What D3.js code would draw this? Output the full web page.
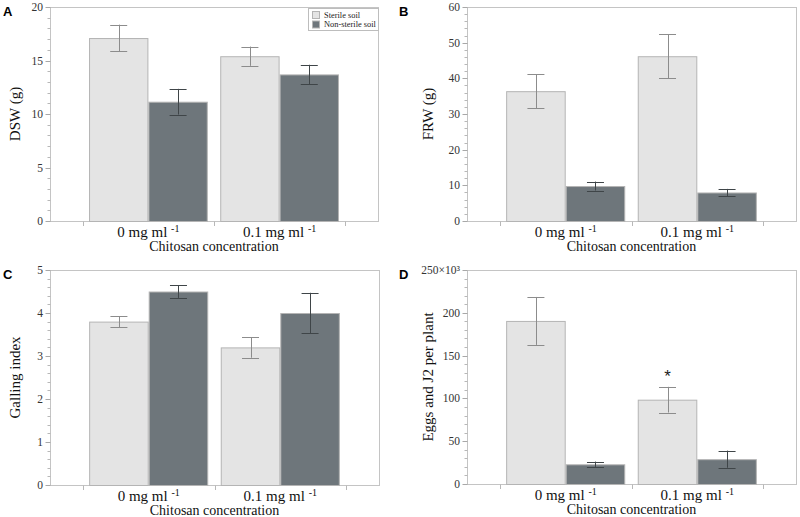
<!DOCTYPE html>
<html><head><meta charset="utf-8">
<script src="https://cdn.jsdelivr.net/npm/d3@7"></script>
<style>body{margin:0;background:#fff}svg{display:block}</style>
</head><body>
<svg id="chart" width="800" height="517"></svg>
<script>
const categories = ["0", "0.1"];
const seriesNames = ["Sterile soil", "Non-sterile soil"];

// Panel A: DSW (g)
const dswSterile = [17.1, 15.4];
const dswSterileErr = [1.25, 0.9];
const dswNon = [11.15, 13.7];
const dswNonErr = [1.2, 0.9];

// Panel B: FRW (g)
const frwSterile = [36.4, 46.2];
const frwSterileErr = [4.75, 6.15];
const frwNon = [9.8, 8.0];
const frwNonErr = [1.25, 1.0];

// Panel C: Galling index
const gallSterile = [3.8, 3.2];
const gallSterileErr = [0.13, 0.24];
const gallNon = [4.5, 4.0];
const gallNonErr = [0.15, 0.47];

// Panel D: Eggs and J2 per plant (x10^3)
const eggSterile = [190.5, 98.5];
const eggSterileErr = [28, 15];
const eggNon = [23, 29];
const eggNonErr = [3.2, 10];

const yTicksA = [0, 5, 10, 15, 20];
const yTicksB = [0, 10, 20, 30, 40, 50, 60];
const yTicksC = [0, 1, 2, 3, 4, 5];
const yTicksD = [0, 50, 100, 150, 200, 250];
const yTickLabelsD = ["0", "50", "100", "150", "200", "250×10³"];

const svg = d3.select("#chart");
const serif = "'Liberation Serif','Times New Roman',serif";
const sans = "'Liberation Sans',Arial,sans-serif";
const fills = ["#e4e4e4", "#6e767b"];
const errCols = ["#8c8c8c", "#3f4548"];

function panel(opt) {
  const {x0, x1, y0, y1, max, ticks, tickLabels, minorStep, sterile, sErr, non, nErr, ylabel, ylabelX, letter, letterX, legend, star} = opt;
  const g = svg.append("g");
  const x = d3.scaleBand().domain(categories).range([x0, x1]).paddingInner(0).paddingOuter(0.25);
  const xs = d3.scaleBand().domain([0, 1]).range([0, x.bandwidth()]).paddingInner(0).paddingOuter(0.105);
  const y = d3.scaleLinear().domain([0, max]).range([y1, y0]);

  // frame
  g.append("rect").attr("x", x0 + 0.5).attr("y", y0 + 0.5).attr("width", x1 - x0).attr("height", y1 - y0)
    .attr("fill", "none").attr("stroke", "#c4c4c4").attr("stroke-width", 1);

  // y ticks
  const minors = d3.range(0, max + 1e-9, minorStep).filter(v => !ticks.some(t => Math.abs(t - v) < 1e-9));
  g.selectAll(".minor").data(minors).join("line")
    .attr("x1", x0 + 0.5).attr("x2", x0 - 2.5)
    .attr("y1", d => Math.round(y(d)) + 0.5).attr("y2", d => Math.round(y(d)) + 0.5)
    .attr("stroke", "#b8b8b8");
  g.selectAll(".major").data(ticks).join("line")
    .attr("x1", x0 + 0.5).attr("x2", x0 - 4.5)
    .attr("y1", d => Math.round(y(d)) + 0.5).attr("y2", d => Math.round(y(d)) + 0.5)
    .attr("stroke", "#a8a8a8");
  g.selectAll(".tl").data(ticks).join("text")
    .attr("x", x0 - 7).attr("y", d => y(d) + 4)
    .attr("text-anchor", "end").attr("font-family", serif).attr("font-size", 11.5).attr("fill", "#333")
    .text((d, i) => tickLabels ? tickLabels[i] : d);

  // x ticks at band boundaries
  const bounds = [x(categories[0]), x(categories[1]), x(categories[1]) + x.bandwidth()];
  g.selectAll(".xt").data(bounds).join("line")
    .attr("x1", d => Math.round(d) + 0.5).attr("x2", d => Math.round(d) + 0.5)
    .attr("y1", y1 + 0.5).attr("y2", y1 + 5)
    .attr("stroke", "#b8b8b8");

  // bars
  const data = [];
  categories.forEach((c, i) => {
    data.push({c, s: 0, v: sterile[i], e: sErr[i]});
    data.push({c, s: 1, v: non[i], e: nErr[i]});
  });
  g.selectAll(".bar").data(data).join("rect")
    .attr("x", d => x(d.c) + xs(d.s) + 0.5)
    .attr("y", d => y(d.v) + 0.5)
    .attr("width", xs.bandwidth() - 1)
    .attr("height", d => y(0) - y(d.v))
    .attr("fill", d => fills[d.s]).attr("stroke", "#b4b4b4").attr("stroke-width", 1);

  // error bars
  const eb = g.selectAll(".eb").data(data).join("g").attr("stroke", d => errCols[d.s]).attr("stroke-width", 1);
  eb.append("line")
    .attr("x1", d => Math.round(x(d.c) + xs(d.s) + xs.bandwidth() / 2) + 0.5)
    .attr("x2", d => Math.round(x(d.c) + xs(d.s) + xs.bandwidth() / 2) + 0.5)
    .attr("y1", d => y(d.v + d.e)).attr("y2", d => y(d.v - d.e));
  [1, -1].forEach(sg => {
    eb.append("line")
      .attr("x1", d => x(d.c) + xs(d.s) + xs.bandwidth() / 2 - 8.5)
      .attr("x2", d => x(d.c) + xs(d.s) + xs.bandwidth() / 2 + 8.5)
      .attr("y1", d => Math.round(y(d.v + sg * d.e)) + 0.5)
      .attr("y2", d => Math.round(y(d.v + sg * d.e)) + 0.5);
  });

  // x category labels
  const xl = g.selectAll(".xl").data(categories).join("text")
    .attr("x", d => x(d) + x.bandwidth() / 2).attr("y", y1 + 16)
    .attr("text-anchor", "middle").attr("font-family", serif).attr("font-size", 15).attr("fill", "#111");
  xl.append("tspan").text(d => d + " mg ml ");
  xl.append("tspan").attr("dy", -5).attr("font-size", 10).text("-1");

  g.append("text").attr("x", (bounds[0] + bounds[2]) / 2).attr("y", y1 + 30)
    .attr("text-anchor", "middle").attr("font-family", serif).attr("font-size", 14).attr("fill", "#111")
    .text("Chitosan concentration");

  g.append("text").attr("transform", `translate(${ylabelX},${(y0 + y1) / 2}) rotate(-90)`)
    .attr("text-anchor", "middle").attr("font-family", serif).attr("font-size", 15).attr("fill", "#111")
    .text(ylabel);

  g.append("text").attr("x", letterX).attr("y", y0 + 9)
    .attr("font-family", sans).attr("font-weight", "bold").attr("font-size", 13).attr("fill", "#000")
    .text(letter);

  if (star) {
    const i = categories.indexOf(star.cat);
    g.append("text").attr("x", x(star.cat) + xs(0) + xs.bandwidth() / 2)
      .attr("y", y(sterile[i] + sErr[i]) - 5)
      .attr("text-anchor", "middle").attr("font-family", sans).attr("font-size", 17).attr("fill", "#222")
      .text("*");
  }

  if (legend) {
    const lg = g.append("g");
    const lx = x1 - 70, ly = y0 + 1;
    lg.append("rect").attr("x", lx + 0.5).attr("y", ly + 0.5).attr("width", 70).attr("height", 22)
      .attr("fill", "#fff").attr("stroke", "#bdbdbd");
    seriesNames.forEach((n, i) => {
      lg.append("rect").attr("x", lx + 4.5).attr("y", ly + 3.5 + i * 9.5).attr("width", 7).attr("height", 7)
        .attr("fill", fills[i]).attr("stroke", "#b4b4b4");
      lg.append("text").attr("x", lx + 16).attr("y", ly + 9.5 + i * 9.5)
        .attr("font-family", serif).attr("font-size", 8.4).attr("fill", "#222").text(n);
    });
  }
}

panel({x0: 50, x1: 378, y0: 7, y1: 221, max: 20, ticks: yTicksA, minorStep: 1,
  sterile: dswSterile, sErr: dswSterileErr, non: dswNon, nErr: dswNonErr,
  ylabel: "DSW (g)", ylabelX: 20, letter: "A", letterX: 3, legend: true});
panel({x0: 467, x1: 796, y0: 7, y1: 221, max: 60, ticks: yTicksB, minorStep: 2,
  sterile: frwSterile, sErr: frwSterileErr, non: frwNon, nErr: frwNonErr,
  ylabel: "FRW (g)", ylabelX: 433, letter: "B", letterX: 399});
panel({x0: 50, x1: 379, y0: 270, y1: 485, max: 5, ticks: yTicksC, minorStep: 0.2,
  sterile: gallSterile, sErr: gallSterileErr, non: gallNon, nErr: gallNonErr,
  ylabel: "Galling index", ylabelX: 20, letter: "C", letterX: 3});
panel({x0: 467, x1: 796, y0: 270, y1: 484, max: 250, ticks: yTicksD, tickLabels: yTickLabelsD, minorStep: 10,
  sterile: eggSterile, sErr: eggSterileErr, non: eggNon, nErr: eggNonErr,
  ylabel: "Eggs and J2 per plant", ylabelX: 433, letter: "D", letterX: 399, star: {cat: "0.1"}});
</script>
</body></html>
